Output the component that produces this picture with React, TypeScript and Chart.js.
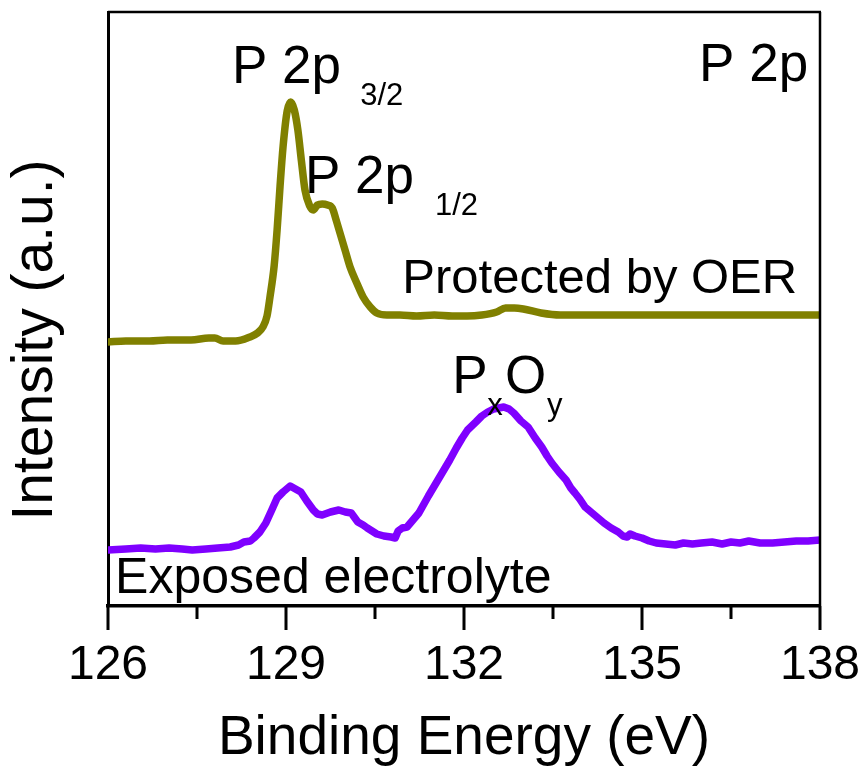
import React, { useEffect, useRef } from "react";
import { Chart, registerables } from "chart.js";

Chart.register(...registerables);

// ---- Data ----
const protectedEnergy = [
  126.0, 126.3, 126.7, 127.0, 127.4, 127.7, 127.8, 127.94, 128.15, 128.39,
  128.52, 128.61, 128.68, 128.73, 128.8, 128.85, 128.9, 128.95, 129.02, 129.08,
  129.14, 129.2, 129.26, 129.32, 129.4, 129.46, 129.53, 129.61, 129.7, 129.78,
  129.85, 129.91, 130.0, 130.08, 130.2, 130.3, 130.42, 130.53, 130.7, 130.92,
  131.2, 131.5, 131.8, 132.05, 132.3, 132.55, 132.7, 132.85, 133.0, 133.3,
  133.62, 134.0, 134.5, 135.0, 135.5, 136.0, 136.5, 137.0, 137.5, 138.0,
];
const protectedIntensity = [
  264, 265, 265, 266, 266, 268, 268, 265, 265, 269,
  273, 279, 290, 309, 340, 376, 420, 459, 495, 504,
  496, 476, 445, 416, 400, 396, 401, 402, 401, 398,
  385, 373, 355, 339, 322, 309, 299, 293, 291, 291,
  290, 291, 290, 290, 291, 294, 298, 298, 297, 293,
  291, 291, 291, 291, 291, 291, 291, 291, 291, 291,
];

const exposedEnergy = [
  126.0, 126.3, 126.55, 126.8, 127.03, 127.25, 127.42, 127.65, 127.85, 128.06,
  128.2, 128.29, 128.4, 128.46, 128.56, 128.66, 128.76, 128.85, 128.95, 129.07,
  129.16, 129.25, 129.35, 129.46, 129.53, 129.61, 129.75, 129.89, 130.0, 130.1,
  130.21, 130.3, 130.37, 130.45, 130.53, 130.65, 130.77, 130.84, 130.89, 130.96,
  131.04, 131.14, 131.24, 131.4, 131.56, 131.66, 131.76, 131.87, 131.97, 132.06,
  132.2, 132.3, 132.4, 132.5, 132.67, 132.76, 132.84, 132.96, 133.08, 133.2,
  133.31, 133.4, 133.48, 133.6, 133.72, 133.8, 133.87, 133.95, 134.04, 134.2,
  134.36, 134.48, 134.6, 134.68, 134.75, 134.8, 134.88, 135.0, 135.12, 135.24,
  135.4, 135.56, 135.7, 135.85, 136.0, 136.18, 136.35, 136.5, 136.65, 136.8,
  136.99, 137.2, 137.4, 137.6, 137.8, 138.0,
];
const exposedIntensity = [
  56, 57, 58, 57, 58, 57, 56, 57, 58, 59,
  61, 64, 65, 68, 74, 83, 96, 108, 114, 120,
  117, 114, 105, 96, 92, 91, 94, 96, 94, 93,
  84, 81, 78, 75, 72, 70, 69, 68, 75, 78,
  79, 86, 93, 110, 126, 136, 146, 158, 168, 176,
  184, 190, 194, 197, 199, 197, 193, 185, 179, 168,
  159, 150, 143, 134, 126, 118, 113, 107, 99, 91,
  83, 78, 74, 70, 69, 72, 70, 68, 65, 63,
  62, 61, 63, 62, 63, 64, 62, 64, 63, 65,
  63, 63, 64, 65, 65, 66,
];

const xMajorTicks = [126, 129, 132, 135, 138];
const xMinorTicks = [127.5, 130.5, 133.5, 136.5];
const xTitle = "Binding Energy (eV)";
const yTitle = "Intensity (a.u.)";
const seriesNames = ["Protected by OER", "Exposed electrolyte"];

// Text labels anchored in data coordinates (eV, intensity)
const labelTexts = ["P 2p", "3/2", "P 2p", "1/2", "P 2p", "P", "x", "O", "y"];
const labelX = [128.09, 130.25, 129.32, 131.51, 137.8, 131.8, 132.39, 132.69, 133.4];
const labelY = [523, 501, 413, 391, 525, 213, 191, 213, 191];
const labelSize = [53, 31, 53, 31, 53, 53, 31, 53, 31];
const labelAlign = ["left", "left", "left", "left", "right", "left", "left", "left", "left"];

const seriesLabelX = [130.96, 126.12];
const seriesLabelY = [313, 13];
const seriesLabelSize = [49, 50];

const FONT = "'Liberation Sans', Arial, sans-serif";
const OLIVE = "#808000";
const VIOLET = "#7f00ff";

const decorPlugin = {
  id: "decor",
  afterDraw(chart: any) {
    const { ctx, chartArea } = chart;
    const { left, right, top, bottom } = chartArea;
    const xs = chart.scales.x;
    const ys = chart.scales.y;
    ctx.save();
    ctx.strokeStyle = "#000";
    ctx.lineCap = "butt";
    // top and right frame
    ctx.lineWidth = 2.5;
    ctx.beginPath();
    ctx.moveTo(left, top);
    ctx.lineTo(right + 1, top);
    ctx.moveTo(right, top);
    ctx.lineTo(right, bottom);
    ctx.stroke();
    // ticks
    ctx.lineWidth = 3;
    ctx.beginPath();
    xMajorTicks.forEach((v) => {
      const px = xs.getPixelForValue(v);
      ctx.moveTo(px, bottom);
      ctx.lineTo(px, bottom + 24);
    });
    xMinorTicks.forEach((v) => {
      const px = xs.getPixelForValue(v);
      ctx.moveTo(px, bottom);
      ctx.lineTo(px, bottom + 13);
    });
    ctx.stroke();
    // annotations
    ctx.fillStyle = "#000";
    ctx.textBaseline = "alphabetic";
    labelTexts.forEach((t, i) => {
      ctx.font = `${labelSize[i]}px ${FONT}`;
      ctx.textAlign = labelAlign[i] as CanvasTextAlign;
      ctx.fillText(t, xs.getPixelForValue(labelX[i]), ys.getPixelForValue(labelY[i]));
    });
    seriesNames.forEach((t, i) => {
      ctx.font = `${seriesLabelSize[i]}px ${FONT}`;
      ctx.textAlign = "left";
      ctx.fillText(t, xs.getPixelForValue(seriesLabelX[i]), ys.getPixelForValue(seriesLabelY[i]));
    });
    // y-axis title
    ctx.translate(36, 340);
    ctx.rotate(-Math.PI / 2);
    ctx.font = `57px ${FONT}`;
    ctx.textAlign = "center";
    ctx.textBaseline = "middle";
    ctx.fillText(yTitle, 0, 0);
    ctx.restore();
  },
};

export default function App() {
  const ref = useRef<HTMLCanvasElement | null>(null);
  useEffect(() => {
    if (!ref.current) return;
    const chart = new Chart(ref.current, {
      type: "line",
      data: {
        datasets: [
          {
            label: seriesNames[0],
            data: protectedEnergy.map((x, i) => ({ x, y: protectedIntensity[i] })),
            borderColor: OLIVE,
            borderWidth: 7.5,
            pointRadius: 0,
            cubicInterpolationMode: "monotone",
            borderJoinStyle: "round",
            borderCapStyle: "round",
            fill: false,
          },
          {
            label: seriesNames[1],
            data: exposedEnergy.map((x, i) => ({ x, y: exposedIntensity[i] })),
            borderColor: VIOLET,
            borderWidth: 7.5,
            pointRadius: 0,
            tension: 0,
            borderJoinStyle: "round",
            borderCapStyle: "round",
            fill: false,
          },
        ],
      },
      options: {
        animation: false,
        responsive: false,
        devicePixelRatio: 1,
        layout: { padding: { top: 12, right: 47, left: 0, bottom: 0 } },
        plugins: { legend: { display: false }, tooltip: { enabled: false } },
        scales: {
          x: {
            type: "linear",
            min: 126,
            max: 138,
            afterFit: (s: any) => {
              s.height = 168;
              s.paddingLeft = 0;
              s.paddingRight = 0;
            },
            ticks: {
              stepSize: 3,
              autoSkip: false,
              maxRotation: 0,
              padding: 31,
              color: "#000",
              font: { family: FONT, size: 48 },
            },
            grid: { display: false, drawTicks: false },
            border: { display: true, color: "#000", width: 3.5 },
            title: {
              display: true,
              text: xTitle,
              color: "#000",
              font: { family: FONT, size: 55 },
              padding: { top: 0, bottom: 2 },
            },
          },
          y: {
            type: "linear",
            min: 0,
            max: 594,
            afterFit: (s: any) => {
              s.width = 108;
            },
            ticks: { display: false },
            grid: { display: false, drawTicks: false },
            border: { display: true, color: "#000", width: 3 },
          },
        },
      },
      plugins: [decorPlugin],
    } as any);
    return () => chart.destroy();
  }, []);
  return (
    <div style={{ position: "fixed", left: 0, top: 0, width: 867, height: 774, background: "#fff" }}>
      <canvas ref={ref} width={867} height={774} style={{ width: 867, height: 774, display: "block" }} />
    </div>
  );
}
